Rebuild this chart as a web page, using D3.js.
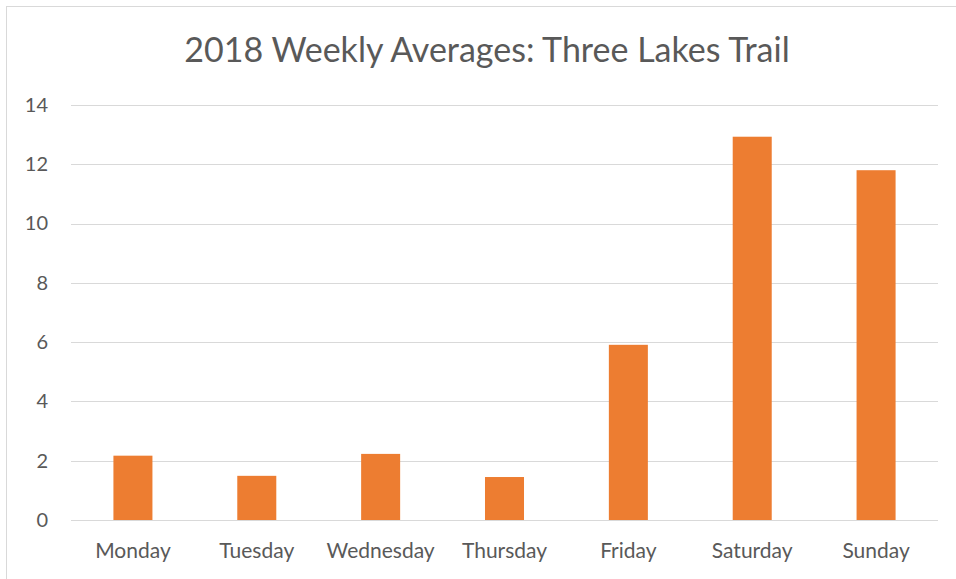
<!DOCTYPE html>
<meta charset="utf-8">
<script src="https://d3js.org/d3.v7.min.js"></script>
<style>
  body { margin: 0; background: #fff; }
  text { font-family: Lato, "Open Sans", sans-serif; fill: #595959; }
</style>
<div id="chart"></div>
<script>
// data
var days = ["Monday", "Tuesday", "Wednesday", "Thursday", "Friday", "Saturday", "Sunday"];
var averages = [2.17, 1.49, 2.23, 1.45, 5.91, 12.93, 11.80];
var yTicks = [0, 2, 4, 6, 8, 10, 12, 14];
var title = "2018 Weekly Averages: Three Lakes Trail";

var W = 956, H = 579;
var margin = {top: 105, right: 18, bottom: 59, left: 71};

var svg = d3.select("#chart")
    .append("svg")
    .attr("width", W)
    .attr("height", H);

// chart area frame (only left and top edges show)
svg.append("rect")
    .attr("x", 6.5).attr("y", 6.5)
    .attr("width", 980).attr("height", 620)
    .attr("fill", "none")
    .attr("stroke", "#d9d9d9");

var x = d3.scaleBand()
    .domain(days)
    .range([margin.left, W - margin.right])
    .paddingInner(0.685)
    .paddingOuter(0.3425);

var y = d3.scaleLinear()
    .domain([0, 14])
    .range([H - margin.bottom, margin.top]);

// gridlines
svg.append("g")
    .selectAll("line")
    .data(yTicks)
    .join("line")
    .attr("x1", margin.left)
    .attr("x2", W - margin.right)
    .attr("y1", d => Math.round(y(d)) + 0.5)
    .attr("y2", d => Math.round(y(d)) + 0.5)
    .attr("stroke", "#d9d9d9");

// y labels
var yAxis = svg.append("g")
    .attr("transform", "translate(" + (margin.left - 23) + ",0)")
    .call(d3.axisLeft(y).tickValues(yTicks).tickSize(0).tickPadding(0));
yAxis.select(".domain").remove();
yAxis.selectAll("text").style("font-size", "20px").attr("fill", "#595959");

// bars
svg.append("g")
    .selectAll("rect")
    .data(averages)
    .join("rect")
    .attr("x", (d, i) => x(days[i]))
    .attr("y", d => y(d))
    .attr("width", x.bandwidth())
    .attr("height", d => y(0) - y(d))
    .attr("fill", "#ed7d31");

// x labels
var xAxis = svg.append("g")
    .attr("transform", "translate(0," + (H - margin.bottom) + ")")
    .call(d3.axisBottom(x).tickSize(0).tickPadding(23));
xAxis.select(".domain").remove();
xAxis.selectAll("text").style("font-size", "21px").attr("fill", "#595959");

// title
svg.append("text")
    .attr("x", 487)
    .attr("y", 62)
    .attr("text-anchor", "middle")
    .style("font-size", "34px")
    .text(title);
</script>
